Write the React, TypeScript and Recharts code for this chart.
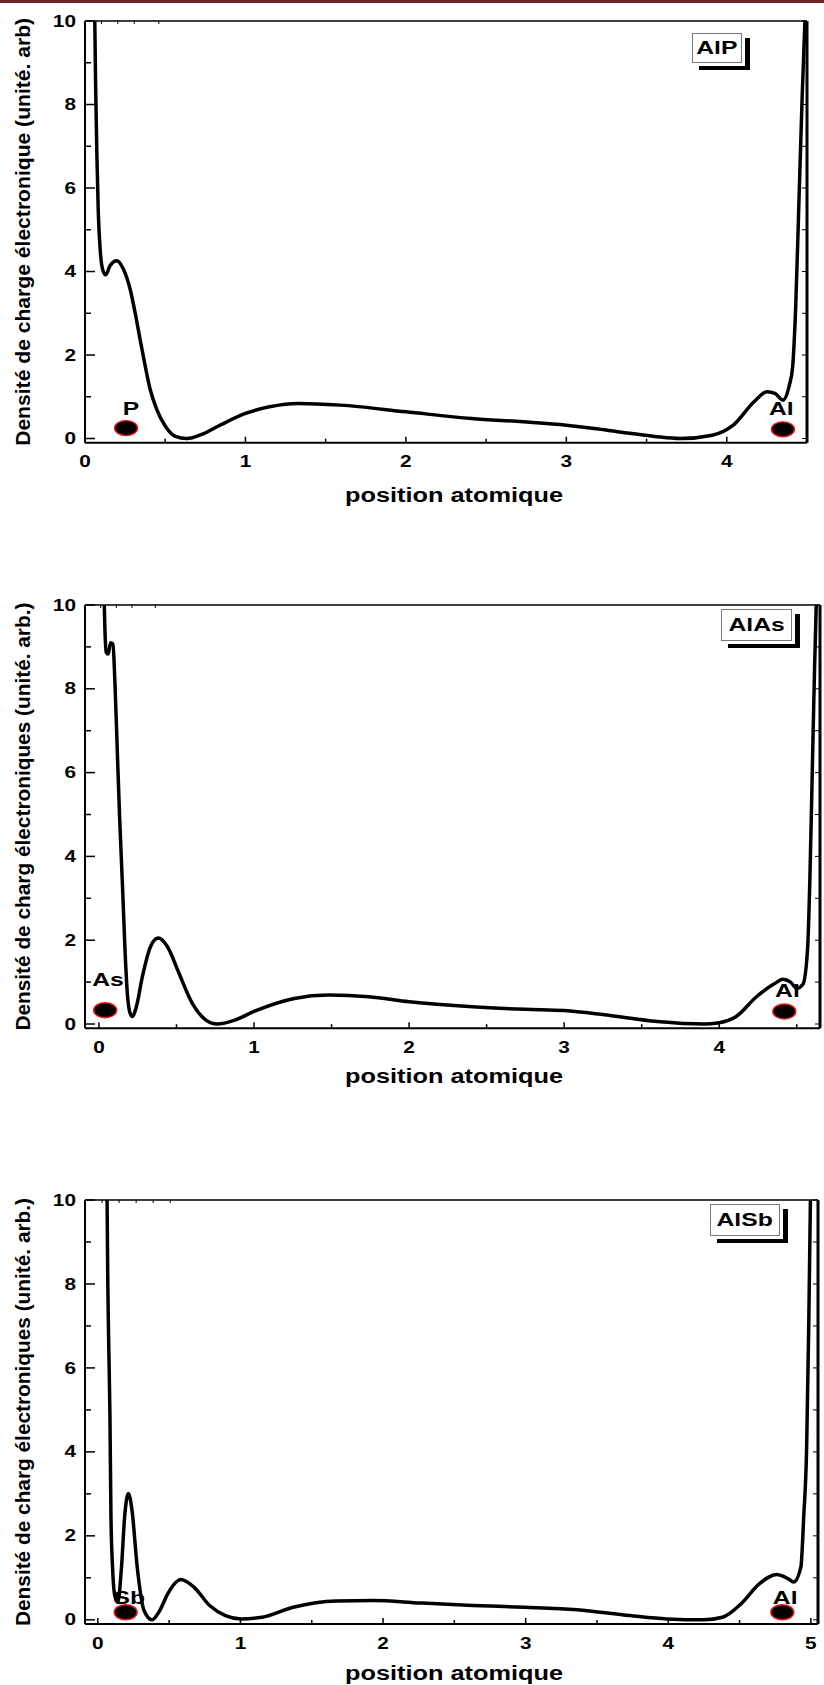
import { LineChart, Line, XAxis, YAxis, ReferenceDot, Legend } from "recharts";

// AlP profile
const alpX = [0.06, 0.066, 0.074, 0.083, 0.095, 0.11, 0.129, 0.156, 0.198, 0.239, 0.281, 0.312, 0.343, 0.375, 0.406, 0.447, 0.5, 0.56, 0.635, 0.728, 0.832, 1.0, 1.15, 1.33, 1.59, 2.0, 2.41, 2.73, 3.0, 3.2, 3.38, 3.55, 3.71, 3.91, 4.04, 4.17, 4.25, 4.3, 4.35, 4.39, 4.41, 4.43, 4.45, 4.47, 4.49];
const alpY = [10.3, 8.5, 6.8, 5.4, 4.5, 4.05, 3.92, 4.14, 4.26, 4.06, 3.58, 3.02, 2.38, 1.74, 1.18, 0.7, 0.3, 0.06, 0.0, 0.1, 0.3, 0.6, 0.76, 0.84, 0.8, 0.64, 0.48, 0.4, 0.32, 0.23, 0.13, 0.05, 0.0, 0.08, 0.32, 0.88, 1.12, 1.08, 0.92, 1.28, 1.7, 3.2, 5.7, 8.2, 10.3];

// AlAs profile
const alasX = [0.032, 0.039, 0.047, 0.06, 0.075, 0.09, 0.103, 0.118, 0.133, 0.151, 0.168, 0.183, 0.199, 0.215, 0.241, 0.28, 0.333, 0.383, 0.441, 0.516, 0.602, 0.688, 0.763, 0.88, 1.0, 1.26, 1.48, 1.74, 2.0, 2.41, 2.75, 3.0, 3.26, 3.6, 3.9, 4.0, 4.11, 4.24, 4.36, 4.41, 4.46, 4.5, 4.54, 4.57, 4.585, 4.6, 4.615, 4.628];
const alasY = [10.3, 9.35, 8.87, 8.83, 9.1, 9.07, 8.15, 6.55, 4.96, 3.37, 1.77, 0.73, 0.28, 0.18, 0.41, 1.13, 1.85, 2.05, 1.85, 1.21, 0.49, 0.1, 0.0, 0.1, 0.3, 0.61, 0.69, 0.65, 0.53, 0.41, 0.35, 0.32, 0.22, 0.06, 0.0, 0.03, 0.18, 0.65, 0.97, 1.07, 1.0, 0.85, 0.95, 1.8, 3.5, 6.0, 8.5, 10.3];

// AlSb profile
const alsbX = [0.064, 0.07, 0.077, 0.085, 0.092, 0.103, 0.121, 0.14, 0.166, 0.188, 0.214, 0.24, 0.276, 0.324, 0.38, 0.434, 0.49, 0.582, 0.674, 0.784, 0.895, 1.005, 1.15, 1.37, 1.67, 1.93, 2.26, 2.63, 2.99, 3.36, 3.73, 3.99, 4.25, 4.38, 4.51, 4.64, 4.76, 4.84, 4.88, 4.93, 4.95, 4.97, 4.985, 4.998];
const alsbY = [10.3, 8.0, 6.44, 4.85, 2.46, 1.26, 0.54, 0.42, 1.26, 2.46, 3.01, 2.6, 1.26, 0.22, 0.0, 0.22, 0.62, 0.96, 0.78, 0.34, 0.1, 0.02, 0.06, 0.3, 0.45, 0.46, 0.4, 0.34, 0.3, 0.24, 0.1, 0.02, 0.0, 0.06, 0.38, 0.86, 1.08, 0.98, 0.9, 1.26, 2.46, 4.05, 7.0, 10.3];

const xTicks45 = [0, 0.5, 1, 1.5, 2, 2.5, 3, 3.5, 4, 4.5];
const xTicks5 = [0, 0.5, 1, 1.5, 2, 2.5, 3, 3.5, 4, 4.5, 5];
const yTicks = [0, 1, 2, 3, 4, 5, 6, 7, 8, 9, 10];

// atom markers (data units) and their labels
const alpAtoms = [
  { name: "P", x: 0.256, y: 0.25, lx: 0.287, ly: 0.73 },
  { name: "Al", x: 4.35, y: 0.22, lx: 4.34, ly: 0.72 },
];
const alasAtoms = [
  { name: "As", x: 0.04, y: 0.33, lx: 0.058, ly: 1.05 },
  { name: "Al", x: 4.42, y: 0.3, lx: 4.44, ly: 0.8 },
];
const alsbAtoms = [
  { name: "Sb", x: 0.195, y: 0.18, lx: 0.22, ly: 0.54 },
  { name: "Al", x: 4.8, y: 0.18, lx: 4.82, ly: 0.54 },
];

const FONT = '"Liberation Sans", Arial, sans-serif';
const LEFT = 85;

type Atom = { name: string; x: number; y: number; lx: number; ly: number };
type PanelProps = {
  top: number;
  height: number;
  frameTop: number;
  frameBottom: number;
  frameRight: number;
  xDomain: [number, number];
  xTicks: number[];
  xs: number[];
  ys: number[];
  name: string;
  yTitle: string;
  titleY: number;
  atoms: Atom[];
  box: { x: number; y: number; w: number; h: number };
};

function LegendBox({ label, w, h }: { label: string; w: number; h: number }) {
  return (
    <div style={{ position: "relative", width: w + 10, height: h + 10 }}>
      <div style={{ position: "absolute", left: w + 3, top: 5, width: 5, height: h + 2, background: "#000" }} />
      <div style={{ position: "absolute", left: 7, top: h + 3, width: w + 1, height: 4, background: "#000" }} />
      <div
        style={{
          position: "absolute",
          left: 0,
          top: 0,
          width: w,
          height: h,
          boxSizing: "border-box",
          border: "1px solid #7a7a7a",
          background: "#fff",
          display: "flex",
          alignItems: "center",
          justifyContent: "center",
          fontFamily: FONT,
          fontWeight: "bold",
          fontSize: 19,
          color: "#000",
        }}
      >
        <span style={{ display: "inline-block", transform: "scaleX(1.3)" }}>{label}</span>
      </div>
    </div>
  );
}

function Panel(p: PanelProps) {
  const data = p.xs.map((x, i) => ({ x, y: p.ys[i] }));
  const fTop = p.frameTop - p.top;
  const fBottom = p.frameBottom - p.top;
  const midY = (fTop + fBottom) / 2;
  const textStyle = { fontFamily: FONT, fontWeight: "bold" as const, fill: "#000" };

  const bottomTick = (t: any) => {
    const v = t.payload.value;
    const major = Number.isInteger(v);
    return (
      <g>
        <line x1={t.x} x2={t.x} y1={fBottom} y2={fBottom - (major ? 6 : 4)} stroke="#000" strokeWidth={1.5} />
        {major && (
          <text transform={`translate(${t.x},${fBottom + 19}) scale(1.3,1)`} textAnchor="middle" dominantBaseline="central" fontSize={16} {...textStyle}>
            {v}
          </text>
        )}
      </g>
    );
  };
  const topTick = (t: any) => (
    <line x1={t.x} x2={t.x} y1={fTop} y2={fTop + 3} stroke="#000" strokeWidth={1} />
  );
  const leftTick = (t: any) => {
    const v = t.payload.value;
    const major = v % 2 === 0;
    return (
      <g>
        <line x1={LEFT} x2={LEFT + (major ? 10 : 6)} y1={t.y} y2={t.y} stroke="#000" strokeWidth={1.5} />
        {major && (
          <text transform={`translate(76,${t.y}) scale(1.3,1)`} textAnchor="end" dominantBaseline="central" fontSize={16} {...textStyle}>
            {v}
          </text>
        )}
      </g>
    );
  };
  const rightTick = (t: any) => (
    <line x1={p.frameRight} x2={p.frameRight - 5} y1={t.y} y2={t.y} stroke="#000" strokeWidth={1} />
  );

  return (
    <div style={{ position: "absolute", left: 0, top: p.top }}>
      <LineChart
        width={824}
        height={p.height}
        data={data}
        margin={{ top: fTop - 1, right: 824 - p.frameRight - 1, bottom: 0, left: 0 }}
      >
        <XAxis
          dataKey="x"
          type="number"
          domain={p.xDomain}
          ticks={p.xTicks}
          allowDataOverflow
          height={p.height - fBottom}
          tickSize={0}
          tickMargin={0}
          tickLine={false}
          tick={bottomTick}
          axisLine={{ stroke: "#000", strokeWidth: 2 }}
          label={{
            content: () => (
              <text x={454} y={p.titleY - p.top} textAnchor="middle" dominantBaseline="central" fontSize={20} textLength={218} lengthAdjust="spacingAndGlyphs" {...textStyle}>
                position atomique
              </text>
            ),
          }}
        />
        <XAxis
          xAxisId="top"
          orientation="top"
          type="number"
          domain={p.xDomain}
          ticks={p.xTicks}
          allowDataOverflow
          height={1}
          tickSize={0}
          tickMargin={0}
          tickLine={false}
          tick={topTick}
          axisLine={{ stroke: "#000", strokeWidth: 1.5 }}
        />
        <YAxis
          type="number"
          domain={[-0.1, 10]}
          ticks={yTicks}
          allowDataOverflow
          width={LEFT}
          tickSize={0}
          tickMargin={0}
          tickLine={false}
          tick={leftTick}
          axisLine={{ stroke: "#000", strokeWidth: 2 }}
          label={{
            content: () => (
              <text transform={`translate(22,${midY}) rotate(-90)`} textAnchor="middle" dominantBaseline="central" fontSize={21} textLength={428} lengthAdjust="spacingAndGlyphs" {...textStyle}>
                {p.yTitle}
              </text>
            ),
          }}
        />
        <YAxis
          yAxisId="right"
          orientation="right"
          type="number"
          domain={[-0.1, 10]}
          ticks={yTicks}
          allowDataOverflow
          width={1}
          tickSize={0}
          tickMargin={0}
          tickLine={false}
          tick={rightTick}
          axisLine={{ stroke: "#000", strokeWidth: 3 }}
        />
        <Legend
          layout="horizontal"
          verticalAlign="middle"
          align="center"
          wrapperStyle={{ left: p.box.x, top: p.box.y - p.top, width: p.box.w + 10, height: p.box.h + 10 }}
          content={(lp: any) => (
            <LegendBox label={lp.payload && lp.payload[0] ? lp.payload[0].value : p.name} w={p.box.w} h={p.box.h} />
          )}
        />
        <Line
          type="monotone"
          dataKey="y"
          name={p.name}
          stroke="#000"
          strokeWidth={3.5}
          dot={false}
          activeDot={false}
          isAnimationActive={false}
        />
        {p.atoms.map((a) => (
          <ReferenceDot
            key={a.name + "-dot"}
            x={a.x}
            y={a.y}
            r={1}
            ifOverflow="visible"
            shape={(s: any) => (
              <ellipse cx={s.cx} cy={s.cy} rx={11.5} ry={7.5} fill="#000" stroke="#f01818" strokeWidth={1.4} />
            )}
          />
        ))}
        {p.atoms.map((a) => (
          <ReferenceDot
            key={a.name + "-label"}
            x={a.lx}
            y={a.ly}
            r={1}
            ifOverflow="visible"
            shape={(s: any) => (
              <text transform={`translate(${s.cx},${s.cy}) scale(1.3,1)`} textAnchor="middle" dominantBaseline="central" fontSize={19} {...textStyle}>
                {a.name}
              </text>
            )}
          />
        ))}
      </LineChart>
    </div>
  );
}

export default function App() {
  return (
    <div style={{ position: "absolute", left: 0, top: 0, width: 824, height: 1685, overflow: "hidden", background: "#fff" }}>
      <div style={{ position: "absolute", left: 0, top: 0, width: 824, height: 3, background: "#702428" }} />
      <Panel
        top={0}
        height={520}
        frameTop={21}
        frameBottom={442.7}
        frameRight={807}
        xDomain={[0, 4.5]}
        xTicks={xTicks45}
        xs={alpX}
        ys={alpY}
        name="AlP"
        yTitle="Densité de charge électronique (unité. arb)"
        titleY={495}
        atoms={alpAtoms}
        box={{ x: 692, y: 33, w: 50, h: 30 }}
      />
      <Panel
        top={560}
        height={540}
        frameTop={605}
        frameBottom={1028.2}
        frameRight={820}
        xDomain={[-0.09, 4.65]}
        xTicks={xTicks45}
        xs={alasX}
        ys={alasY}
        name="AlAs"
        yTitle="Densité de charg électroniques (unité. arb.)"
        titleY={1076}
        atoms={alasAtoms}
        box={{ x: 721, y: 609, w: 71, h: 32 }}
      />
      <Panel
        top={1150}
        height={535}
        frameTop={1200}
        frameBottom={1624}
        frameRight={818}
        xDomain={[-0.09, 5.05]}
        xTicks={xTicks5}
        xs={alsbX}
        ys={alsbY}
        name="AlSb"
        yTitle="Densité de charg électroniques (unité. arb.)"
        titleY={1673}
        atoms={alsbAtoms}
        box={{ x: 710, y: 1204, w: 70, h: 32 }}
      />
    </div>
  );
}
